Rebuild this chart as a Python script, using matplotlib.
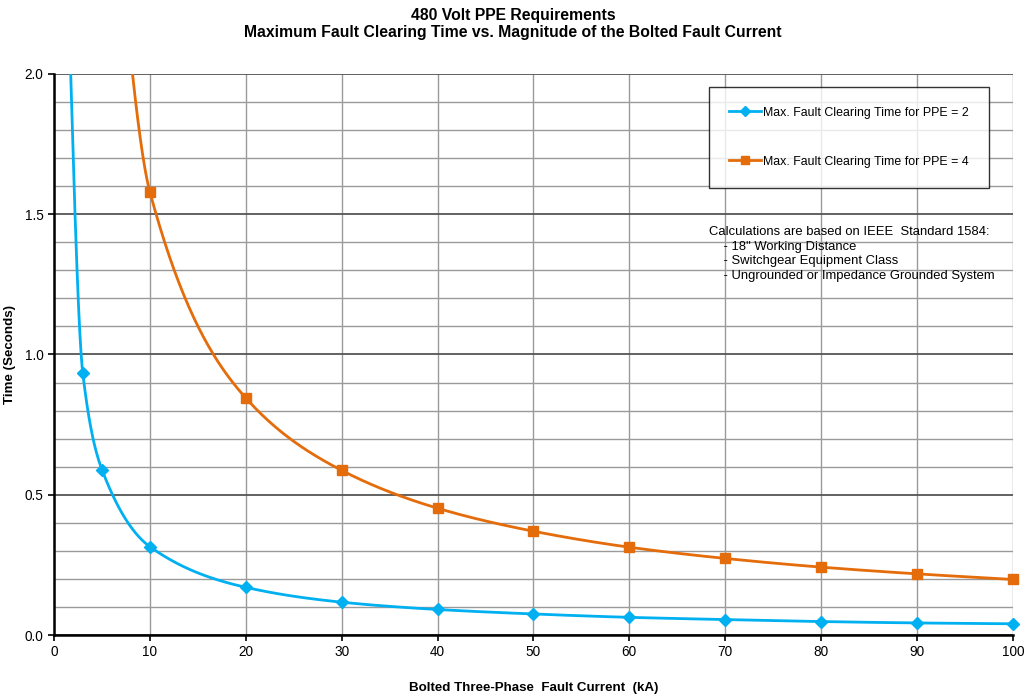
import numpy as np
import matplotlib
matplotlib.use('Agg')
import matplotlib.pyplot as plt

plt.rcParams['font.family'] = ['Liberation Sans', 'DejaVu Sans']

# data
current_ppe2 = [1, 3, 5, 10, 20, 30, 40, 50, 60, 70, 80, 90, 100]
time_ppe2 = [2.8, 0.935, 0.59, 0.315, 0.17, 0.117, 0.091, 0.075, 0.063, 0.055, 0.048, 0.043, 0.040]
current_ppe4 = [5, 10, 20, 30, 40, 50, 60, 70, 80, 90, 100]
time_ppe4 = [3.1, 1.58, 0.845, 0.587, 0.452, 0.37, 0.313, 0.273, 0.242, 0.218, 0.198]
label_ppe2 = 'Max. Fault Clearing Time for PPE = 2'
label_ppe4 = 'Max. Fault Clearing Time for PPE = 4'
note = ('Calculations are based on IEEE  Standard 1584:\n'
        '    - 18" Working Distance\n'
        '    - Switchgear Equipment Class\n'
        '    - Ungrounded or Impedance Grounded System')


def smooth(x, y, n=60):
    # monotone cubic (fritsch-carlson) so the line is smooth, no overshoot
    x = np.asarray(x, float)
    y = np.asarray(y, float)
    h = np.diff(x)
    d = np.diff(y) / h
    m = np.zeros_like(y)
    m[0], m[-1] = d[0], d[-1]
    for k in range(1, len(x) - 1):
        if d[k - 1] * d[k] > 0:
            w1 = 2 * h[k] + h[k - 1]
            w2 = h[k] + 2 * h[k - 1]
            m[k] = (w1 + w2) / (w1 / d[k - 1] + w2 / d[k])
    xs, ys = [], []
    t = np.linspace(0, 1, n)
    for k in range(len(x) - 1):
        h00 = 2 * t ** 3 - 3 * t ** 2 + 1
        h10 = t ** 3 - 2 * t ** 2 + t
        h01 = -2 * t ** 3 + 3 * t ** 2
        h11 = t ** 3 - t ** 2
        xs.append(x[k] + t * h[k])
        ys.append(h00 * y[k] + h10 * h[k] * m[k] + h01 * y[k + 1] + h11 * h[k] * m[k + 1])
    return np.concatenate(xs), np.concatenate(ys)


blue = '#00B0F0'
orange = '#E46C0A'

fig = plt.figure(figsize=(10.26, 6.94), dpi=100)
ax = fig.add_axes([0.0526, 0.085, 0.9346, 0.8084])

ax.set_xlim(0, 100)
ax.set_ylim(0, 2.0)
ax.set_xticks(np.arange(0, 101, 10))
ax.set_yticks([0, 0.5, 1.0, 1.5, 2.0])
ax.set_yticklabels(['0.0', '0.5', '1.0', '1.5', '2.0'])
ax.set_yticks(np.arange(0, 2.01, 0.1), minor=True)
ax.tick_params(axis='y', which='minor', length=0)
ax.tick_params(axis='both', which='major', labelsize=9.8, length=4, width=1.2, direction='out')

ax.grid(axis='y', which='minor', color='#9a9a9a', lw=1)
ax.grid(axis='y', which='major', color='#555555', lw=1.3)
ax.grid(axis='x', which='major', color='#9a9a9a', lw=1)
ax.set_axisbelow(True)

for s in ['top', 'right']:
    ax.spines[s].set_visible(False)
for s in ['left', 'bottom']:
    ax.spines[s].set_linewidth(1.8)
    ax.spines[s].set_color('black')

for xv, yv, col, mk, ms in [(current_ppe2, time_ppe2, blue, 'D', 6),
                            (current_ppe4, time_ppe4, orange, 's', 7)]:
    sx, sy = smooth(xv, yv)
    ax.plot(sx, sy, color=col, lw=2, zorder=3)
    xa = np.array(xv)
    ya = np.array(yv)
    keep = ya <= 2.0
    ax.plot(xa[keep], ya[keep], mk, color=col, ms=ms, zorder=4, clip_on=False)

h1, = ax.plot([], [], color=blue, lw=2, marker='D', ms=5)
h2, = ax.plot([], [], color=orange, lw=2, marker='s', ms=6)
leg = ax.legend([h1, h2], [label_ppe2, label_ppe4], loc='upper left',
                bbox_to_anchor=(0.683, 0.977), fontsize=8.9, frameon=True,
                fancybox=False, edgecolor='black', labelspacing=3.0,
                borderpad=1.6, handlelength=2.6, handletextpad=0.2,
                borderaxespad=0)
leg.get_frame().set_linewidth(1)

ax.text(68.3, 1.458, note, fontsize=9.4, va='top', ha='left', linespacing=1.3)

ax.set_xlabel('Bolted Three-Phase  Fault Current  (kA)', fontsize=9.6, fontweight='bold', labelpad=16)
ax.set_ylabel('Time (Seconds)', fontsize=9.6, fontweight='bold')
ax.yaxis.set_label_coords(-0.04, 0.5)
fig.suptitle('480 Volt PPE Requirements\nMaximum Fault Clearing Time vs. Magnitude of the Bolted Fault Current',
             fontsize=11.3, fontweight='bold', y=0.988, linespacing=1.15)

fig.savefig('out.png', dpi=100)
